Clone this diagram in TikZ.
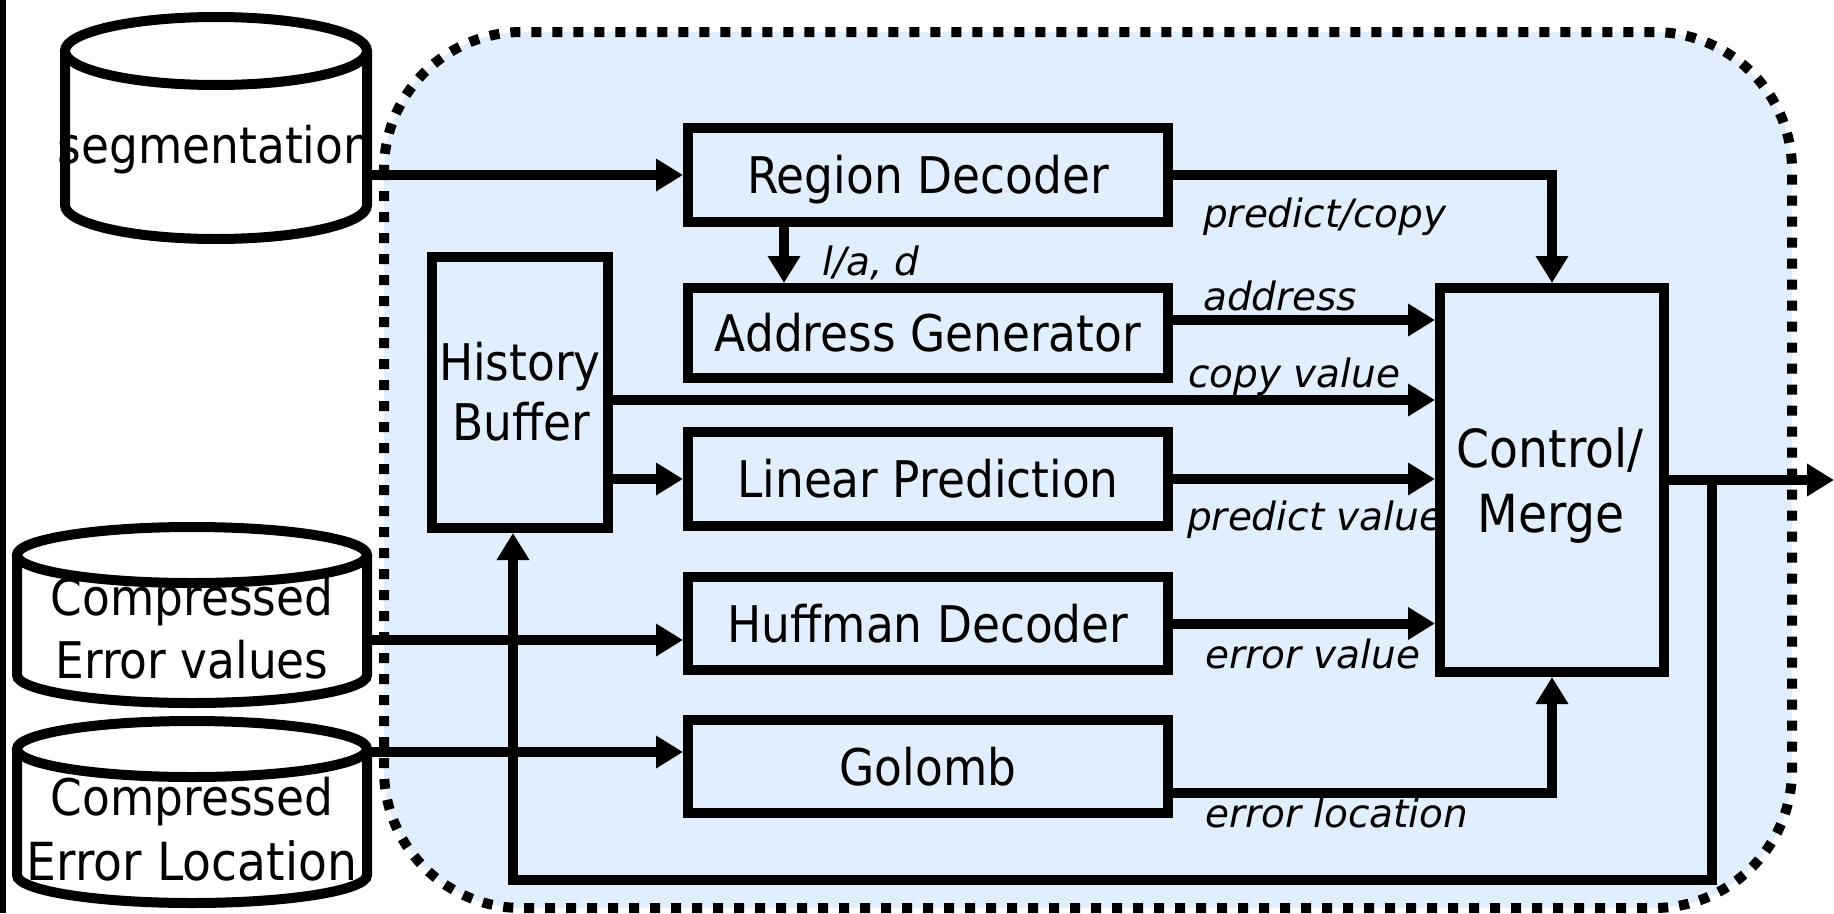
\documentclass[tikz,border=0pt]{standalone}
\usepackage{fontspec}
\setmainfont{DejaVu Sans}[FakeStretch=0.9]
\newfontfamily\lblfont{DejaVu Sans}
\usetikzlibrary{arrows.meta}
\definecolor{panelblue}{RGB}{225,238,253}
\newcommand\mainsz{\fontsize{50.5}{60}\selectfont}
\newcommand\lblsz{\lblfont\itshape\fontsize{39}{46}\selectfont}
\begin{document}
\begin{tikzpicture}[x=1pt,y=-1pt,
  blk/.style={draw, line width=10pt, inner sep=0pt, font=\mainsz,
              text height=37pt, text depth=0pt},
  wire/.style={line width=10pt},
  arr/.style={line width=10pt, -{Triangle[length=27pt,width=31pt]}},
  lbl/.style={font=\lblsz, anchor=base west, inner sep=0pt},
  txt/.style={font=\mainsz, anchor=base, inner sep=0pt},
  drumline/.style={line width=10pt}]

\useasboundingbox (0,0) rectangle (1834,913);

% left rule
\fill (0,0) rectangle (6,913);

% decoder panel
\fill[panelblue, rounded corners=138pt] (384,32) rectangle (1792,908);
\draw[line width=10pt, dash pattern=on 10pt off 11pt, rounded corners=138pt]
  (384,32) rectangle (1792,908);

% storage drums
% segmentation
\path[fill=white] (65,51) -- (65,205) .. controls (65,223.8) and (132.6,239) .. (216,239)
  .. controls (299.4,239) and (367,223.8) .. (367,205) -- (367,51) -- cycle;
\draw[drumline] (65,51) -- (65,205) .. controls (65,223.8) and (132.6,239) .. (216,239)
  .. controls (299.4,239) and (367,223.8) .. (367,205) -- (367,51);
\filldraw[drumline, fill=white] (216,51) ellipse [x radius=151pt, y radius=34pt];
% error values
\path[fill=white] (17,555) -- (17,675) .. controls (17,690.5) and (95.3,703) .. (192,703)
  .. controls (288.7,703) and (367,690.5) .. (367,675) -- (367,555) -- cycle;
\draw[drumline] (17,555) -- (17,675) .. controls (17,690.5) and (95.3,703) .. (192,703)
  .. controls (288.7,703) and (367,690.5) .. (367,675) -- (367,555);
\filldraw[drumline, fill=white] (192,555) ellipse [x radius=175pt, y radius=28pt];
% error location
\path[fill=white] (17,749) -- (17,875) .. controls (17,890.5) and (95.3,903) .. (192,903)
  .. controls (288.7,903) and (367,890.5) .. (367,875) -- (367,749) -- cycle;
\draw[drumline] (17,749) -- (17,875) .. controls (17,890.5) and (95.3,903) .. (192,903)
  .. controls (288.7,903) and (367,890.5) .. (367,875) -- (367,749);
\filldraw[drumline, fill=white] (192,749) ellipse [x radius=175pt, y radius=28pt];

\node[txt] (segtxt) at (215,163) {segmentation};
\node[txt] (ev1) at (192,615) {Compressed};
\node[txt] (ev2) at (192,678) {Error values};
\node[txt] (el1) at (192,815) {Compressed};
\node[txt, font=\fontsize{52.5}{60}\selectfont] (el2) at (192,880) {Error Location};

\coordinate (segout) at (367,175);
\coordinate (evout) at (367,640);
\coordinate (elout) at (367,752);

% blocks
\node[blk, minimum width=480pt, minimum height=94pt] (region)  at (928,175)   {Region Decoder};
\node[blk, minimum width=480pt, minimum height=90pt] (address) at (928,333)   {Address Generator};
\node[blk, minimum width=480pt, minimum height=94pt] (linear)  at (928,479)   {Linear Prediction};
\node[blk, minimum width=480pt, minimum height=93pt] (huffman) at (928,623.5) {Huffman Decoder};
\node[blk, minimum width=480pt, minimum height=93pt] (golomb)  at (928,766.5) {Golomb};
\node[draw, line width=10pt, inner sep=0pt, minimum width=176pt, minimum height=271pt] (history) at (520,392.5) {};
\node[draw, line width=10pt, inner sep=0pt, minimum width=224pt, minimum height=384pt] (control) at (1552,480) {};

\node[txt] (histA) at (520,380) {History};
\node[txt] (histB) at (521,440) {Buffer};
\node[txt, font=\fontsize{52.5}{60}\selectfont] (ctrlA) at (1550,467) {Control/};
\node[txt, font=\fontsize{52.5}{60}\selectfont] (ctrlB) at (1551,532) {Merge};

% connectors
\coordinate (rax) at (784,0);
\coordinate (fb1) at (1712,480);
\coordinate (fb2) at (513,880);
\coordinate (outtip) at (1834,480);

\draw[arr] (segout) -- (region.west |- segout);
\draw[arr] (evout) -- (huffman.west |- evout);
\draw[arr] (elout) -- (golomb.west |- elout);
\draw[arr] (region.south -| rax) -- (address.north -| rax);
\draw[arr] (region.east) -| (control.north);
\draw[arr] (address.east |- 0,320) -- (control.west |- 0,320);
\draw[arr] (history.east |- 0,400) -- (control.west |- 0,400);
\draw[arr] (history.east |- linear.west) -- (linear.west);
\draw[arr] (linear.east) -- (control.west |- linear.east);
\draw[arr] (huffman.east) -- (control.west |- huffman.east);
\draw[arr] (golomb.east |- 0,793) -| (control.south);
\draw[arr] (control.east) -- (outtip);
\draw[arr] (fb1) |- (fb2) -- (fb2 |- history.south);

% signal labels
\node[lbl] (lad)  at (822,275)  {l/a, d};
\node[lbl] (pc)   at (1203,227) {predict/copy};
\node[lbl] (adr)  at (1203,310) {address};
\node[lbl] (cv)   at (1188,387) {copy value};
\node[lbl] (pv)   at (1187,530) {predict value};
\node[lbl] (erv)  at (1205,668) {error value};
\node[lbl] (erl)  at (1205,827) {error location};
\end{tikzpicture}
\end{document}
